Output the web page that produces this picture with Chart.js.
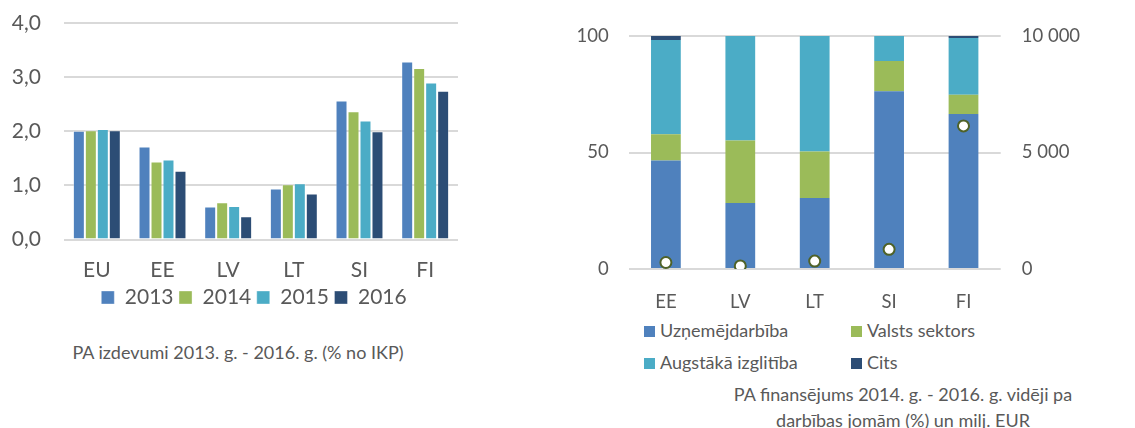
<!DOCTYPE html>
<html>
<head>
<meta charset="utf-8">
<script src="https://cdn.jsdelivr.net/npm/chart.js@4.4.1/dist/chart.umd.min.js"></script>
<style>
  body { margin: 0; background: #fff; width: 1135px; height: 428px; overflow: hidden; position: relative; font-family: Lato, sans-serif; color: #595959; }
  #rdChart { position: absolute; left: 0; top: 0; }
  #fundChart { position: absolute; left: 560px; top: 0; }
  .caption { position: absolute; font-size: 18px; text-align: center; white-space: nowrap; line-height: 26px; }
  .leg { position: absolute; font-size: 18px; white-space: nowrap; }
  .leg span { display: inline-block; width: 11px; height: 11px; margin-right: 5px; vertical-align: 0px; }
</style>
</head>
<body>
<canvas id="rdChart" width="480" height="318"></canvas>
<canvas id="fundChart" width="575" height="319"></canvas>

<div class="caption" style="left:38px; top:339px; width:400px;">PA izdevumi 2013. g. - 2016. g. (% no IKP)</div>

<div class="leg" style="left:644px; top:319px;"><span style="background:#4F81BD"></span>Uzņemējdarbība</div>
<div class="leg" style="left:851px; top:319px;"><span style="background:#9BBB59"></span>Valsts sektors</div>
<div class="leg" style="left:644px; top:351px;"><span style="background:#4BACC6"></span>Augstākā izglitība</div>
<div class="leg" style="left:851px; top:351px;"><span style="background:#2C4D75"></span>Cits</div>

<div class="caption" style="left:703px; top:381px; width:400px;">PA finansējums 2014. g. - 2016. g. vidēji pa<br>darbības jomām (%) un milj. EUR</div>

<script>
// kreisais grafiks: PA izdevumi % no IKP
const countriesLeft = ['EU', 'EE', 'LV', 'LT', 'SI', 'FI'];
const years = ['2013', '2014', '2015', '2016'];
const rd2013 = [2.01, 1.72, 0.61, 0.94, 2.57, 3.29];
const rd2014 = [2.02, 1.44, 0.69, 1.02, 2.37, 3.17];
const rd2015 = [2.04, 1.48, 0.62, 1.04, 2.20, 2.90];
const rd2016 = [2.02, 1.27, 0.43, 0.85, 2.00, 2.75];
const leftTicks = [0, 1, 2, 3, 4];

// labais grafiks: finansējums pa jomām (%) un milj. EUR
const countriesRight = ['EE', 'LV', 'LT', 'SI', 'FI'];
const business = [46.6, 28.3, 30.5, 76.3, 66.5];
const government = [11.2, 26.8, 19.9, 13.0, 8.3];
const higherEd = [40.5, 44.9, 49.6, 10.7, 24.3];
const other = [1.7, 0, 0, 0, 0.9];
const totalMEur = [280, 130, 340, 845, 6140];
const rightTicks = [0, 50, 100];
const rightTicks2 = [0, 5000, 10000];

const textColor = '#595959';
const gridColor = '#d9d9d9';
const colors = ['#4F81BD', '#9BBB59', '#4BACC6', '#2C4D75'];

Chart.defaults.font.family = 'Lato, sans-serif';
Chart.defaults.color = textColor;
Chart.defaults.animation = false;

// ass platums fiksēts, bez papildu atstarpes augšā/apakšā
const fixWidth = w => s => { s.width = w; s.paddingTop = 0; s.paddingBottom = 0; };

// leģendu nedaudz pa kreisi, kā oriģinālā
const legendShift = {
  id: 'legendShift',
  afterLayout(chart) {
    chart.legend.left -= 7;
    chart.legend.right -= 7;
  }
};

const rdSeries = [rd2013, rd2014, rd2015, rd2016];

new Chart(document.getElementById('rdChart'), {
  type: 'bar',
  data: {
    labels: countriesLeft,
    datasets: years.map((y, i) => ({
      label: y,
      data: rdSeries[i],
      backgroundColor: colors[i],
      borderColor: 'rgba(255,255,255,0.35)',
      borderWidth: 1,
      borderSkipped: 'bottom',
      categoryPercentage: 0.73,
      barPercentage: 1
    }))
  },
  options: {
    responsive: false,
    layout: { padding: { top: 23, right: 22, left: 0, bottom: 0 } },
    plugins: {
      tooltip: { enabled: false },
      legend: {
        position: 'bottom',
        fullSize: false,
        labels: { boxWidth: 13, boxHeight: 13, padding: 5.5, font: { size: 21 }, color: textColor }
      }
    },
    scales: {
      x: {
        grid: { display: false, drawTicks: false },
        border: { display: false },
        ticks: { font: { size: 21, lineHeight: 1 }, padding: 20.5, color: textColor, maxRotation: 0 },
        afterFit: s => { s.height = 42; }
      },
      y: {
        min: 0,
        max: 4,
        afterBuildTicks: s => { s.ticks = leftTicks.map(v => ({ value: v })); },
        ticks: {
          font: { size: 21 },
          padding: 23,
          color: textColor,
          callback: v => v.toFixed(1).replace('.', ',')
        },
        grid: { color: gridColor, lineWidth: 2, drawTicks: false },
        border: { display: false },
        afterFit: fixWidth(64)
      }
    }
  },
  plugins: [legendShift]
});

const fundSeries = [
  { label: 'Uzņemējdarbība', data: business },
  { label: 'Valsts sektors', data: government },
  { label: 'Augstākā izglitība', data: higherEd },
  { label: 'Cits', data: other }
];

new Chart(document.getElementById('fundChart'), {
  type: 'bar',
  data: {
    labels: countriesRight,
    datasets: [
      {
        type: 'line',
        label: 'milj. EUR',
        data: totalMEur,
        yAxisID: 'y2',
        showLine: false,
        pointRadius: 5.5,
        pointBackgroundColor: '#ffffff',
        pointBorderColor: '#4F6228',
        pointBorderWidth: 2,
        order: 0
      },
      ...fundSeries.map((s, i) => ({
        label: s.label,
        data: s.data,
        backgroundColor: colors[i],
        borderWidth: 0,
        categoryPercentage: 1,
        barPercentage: 0.4,
        yAxisID: 'y',
        order: 1
      }))
    ]
  },
  options: {
    responsive: false,
    layout: { padding: { top: 36, right: 0, left: 0, bottom: 0 } },
    plugins: {
      tooltip: { enabled: false },
      legend: { display: false }
    },
    scales: {
      x: {
        stacked: true,
        grid: { display: false, drawTicks: false },
        border: { display: false },
        ticks: { font: { size: 18.5 }, padding: 22, color: textColor, maxRotation: 0 },
        afterFit: s => { s.height = 50; }
      },
      y: {
        stacked: true,
        min: 0,
        max: 100,
        afterBuildTicks: s => { s.ticks = rightTicks.map(v => ({ value: v })); },
        ticks: { font: { size: 18.5 }, padding: 20, color: textColor },
        grid: { color: gridColor, lineWidth: 2, drawTicks: false },
        border: { display: false },
        afterFit: fixWidth(68.7)
      },
      y2: {
        position: 'right',
        min: 0,
        max: 10000,
        afterBuildTicks: s => { s.ticks = rightTicks2.map(v => ({ value: v })); },
        ticks: {
          font: { size: 18.5 },
          padding: 21,
          color: textColor,
          callback: v => String(v).replace(/\B(?=(\d{3})+(?!\d))/g, ' ')
        },
        grid: { display: false, drawTicks: false },
        border: { display: false },
        afterFit: fixWidth(134.3)
      }
    }
  }
});
</script>
</body>
</html>
